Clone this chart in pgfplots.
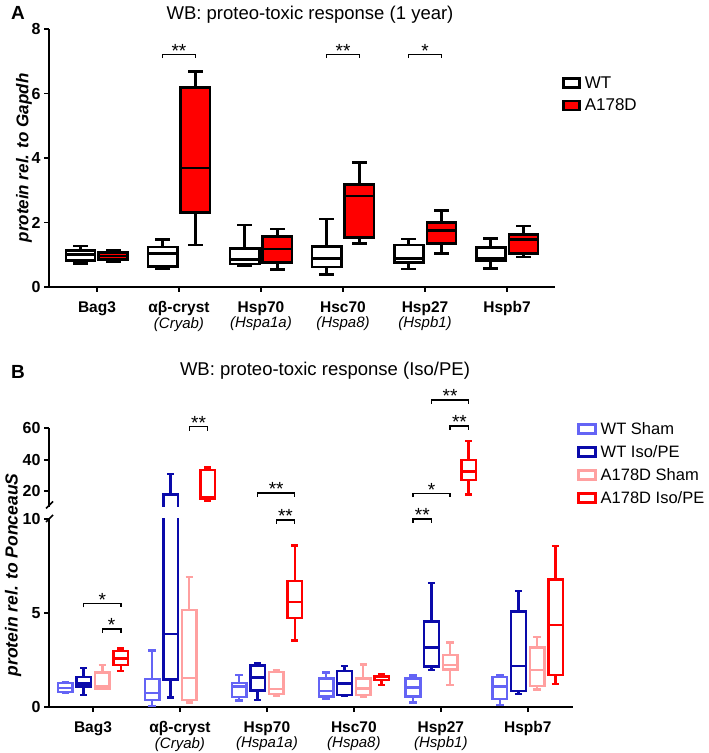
\documentclass[border=0pt]{standalone}
\usepackage{fontspec}
\setmainfont{Liberation Sans}
\usepackage{pgfplots}
\pgfplotsset{compat=1.18}
\usepgfplotslibrary{statistics}

\definecolor{wtsham}{HTML}{6464F5}
\definecolor{wtiso}{HTML}{0A0AAA}
\definecolor{musham}{HTML}{FFA0A0}
\definecolor{muiso}{HTML}{FF0000}

\newcommand\gsub[1]{{\mdseries\itshape\fontsize{15}{15}\selectfont #1}}
\newcommand\medlw{2.8pt}
% one prepared box: style, position, lw, lq, med, uq, uw
\newcommand\bp[7]{\addplot[#1, boxplot prepared={draw position=#2, lower whisker=#3,
  lower quartile=#4, median=#5, upper quartile=#6, upper whisker=#7,
  every median/.style={line width=\medlw}}] coordinates {};}
% significance bracket: x1, x2, y, tick end, text
\newcommand\sig[5]{\draw[line width=1.4pt] (axis cs:#1,#4) |- (axis cs:#2,#3) -- (axis cs:#2,#4);
  \path (axis cs:#1,#3) -- node[anchor=base, yshift=-3pt, font=\fontsize{19}{19}\selectfont] {#5} (axis cs:#2,#3);}

\pgfplotsset{
  panel/.style={scale only axis, axis lines*=left, clip mode=individual,
    axis line style={line width=1.6pt}, tick style={line width=1.6pt, black},
    tick align=outside, major tick length=5pt,
    tick label style={font=\bfseries\fontsize{16}{16}\selectfont},
    /pgf/number format/assume math mode=true,
    xtick={0,...,5},
    xticklabels={Bag3, {αβ-cryst\\\gsub{(Cryab)}}, {Hsp70\\\gsub{(Hspa1a)}},
      {Hsc70\\\gsub{(Hspa8)}}, {Hsp27\\\gsub{(Hspb1)}}, Hspb7},
    xticklabel style={align=center, yshift=-6pt, font=\bfseries\fontsize{15.5}{15.5}\selectfont},
    legend cell align=left},
  bxA/.style={line width=2.8pt, draw=black, boxplot/draw direction=y,
    boxplot/box extend=0.354, boxplot/whisker extend=0.177},
  bxB/.style={line width=2.4pt, boxplot/draw direction=y,
    boxplot/box extend=0.168, boxplot/whisker extend=0.084},
}

% panel B values (positions: category -0.32, -0.107, +0.107, +0.32)
\newcommand\panelB{%
  % Bag3
  \bp{bxB, draw=wtsham}{-0.32}{0.75}{0.80}{1.00}{1.28}{1.33}
  \bp{bxB, draw=wtiso}{-0.107}{0.64}{1.08}{1.26}{1.61}{2.06}
  \bp{bxB, draw=musham}{0.107}{0.95}{0.98}{1.08}{1.83}{2.23}
  \bp{bxB, draw=muiso}{0.32}{1.93}{2.23}{2.59}{2.98}{3.12}
  % ab-cryst
  \bp{bxB, draw=wtsham}{0.68}{0.05}{0.37}{0.73}{1.49}{3.01}
  \bp{bxB, draw=wtiso}{0.893}{0.50}{1.47}{3.87}{18}{31}
  \bp{bxB, draw=musham}{1.107}{0.23}{0.37}{1.53}{5.16}{6.90}
  \bp{bxB, draw=muiso}{1.32}{14}{15}{16}{33.5}{35}
  % Hsp70
  \bp{bxB, draw=wtsham}{1.68}{0.34}{0.52}{1.08}{1.29}{1.70}
  \bp{bxB, draw=wtiso}{1.893}{0.37}{0.87}{1.56}{2.20}{2.32}
  \bp{bxB, draw=musham}{2.107}{0.62}{0.69}{0.96}{1.86}{1.97}
  \bp{bxB, draw=muiso}{2.32}{3.53}{4.72}{5.57}{6.70}{8.58}
  % Hsc70
  \bp{bxB, draw=wtsham}{2.68}{0.43}{0.55}{0.85}{1.52}{1.84}
  \bp{bxB, draw=wtiso}{2.893}{0.58}{0.64}{1.26}{1.91}{2.18}
  \bp{bxB, draw=musham}{3.107}{0.52}{0.64}{0.99}{1.52}{2.27}
  \bp{bxB, draw=muiso}{3.32}{1.17}{1.44}{1.58}{1.65}{1.74}
  % Hsp27
  \bp{bxB, draw=wtsham}{3.68}{0.23}{0.55}{1.03}{1.52}{1.67}
  \bp{bxB, draw=wtiso}{3.893}{1.97}{2.15}{3.16}{4.54}{6.61}
  \bp{bxB, draw=musham}{4.107}{1.17}{2.00}{2.23}{2.77}{3.44}
  \bp{bxB, draw=muiso}{4.32}{18}{27}{32.5}{40}{52}
  % Hspb7
  \bp{bxB, draw=wtsham}{4.68}{0.11}{0.41}{1.08}{1.58}{1.70}
  \bp{bxB, draw=wtiso}{4.893}{0.69}{0.85}{2.18}{5.07}{6.17}
  \bp{bxB, draw=musham}{5.107}{0.94}{1.12}{1.97}{3.17}{3.71}
  \bp{bxB, draw=muiso}{5.32}{1.22}{1.70}{4.36}{6.79}{8.56}
}

\begin{document}
\begin{tikzpicture}
\useasboundingbox (0pt,0pt) rectangle (709pt,753pt);

% ---------- panel A ----------
\node[font=\bfseries\fontsize{19}{19}\selectfont] at (18pt,740pt) {A};
\node[font=\fontsize{18.5}{18.5}\selectfont] at (310pt,738pt) {WB: proteo-toxic response (1 year)};
\node[rotate=90, font=\bfseries\itshape\fontsize{17}{17}\selectfont] at (24pt,595pt) {protein rel. to Gapdh};

\renewcommand\medlw{2.8pt}
\begin{axis}[panel, at={(49pt,466pt)}, anchor=south west, width=506pt, height=258pt,
  xmin=-0.585, xmax=5.585, ymin=0, ymax=8, ytick={0,2,4,6,8},
  legend image code/.code={\draw[#1] (0pt,-4.5pt) rectangle (16pt,4.5pt);},
  legend style={draw=none, fill=none, at={(1.0138,0.82)}, anchor=north west,
    font=\fontsize{17}{19}\selectfont, row sep=7pt, inner sep=0pt,
    nodes={inner xsep=4pt, inner ysep=1pt}}]
\addlegendimage{draw=black, fill=white, line width=2.6pt}
\addlegendimage{draw=black, fill=red, line width=2.6pt}
\legend{WT, A178D}
\bp{bxA, fill=white}{-0.2}{0.72}{0.81}{1.00}{1.12}{1.27}
\bp{bxA, fill=red}{0.2}{0.78}{0.86}{0.96}{1.06}{1.15}
\bp{bxA, fill=white}{0.8}{0.56}{0.63}{1.05}{1.24}{1.48}
\bp{bxA, fill=red}{1.2}{1.30}{2.32}{3.69}{6.19}{6.67}
\bp{bxA, fill=white}{1.8}{0.65}{0.71}{0.85}{1.20}{1.92}
\bp{bxA, fill=red}{2.2}{0.55}{0.75}{1.18}{1.56}{1.80}
\bp{bxA, fill=white}{2.8}{0.39}{0.62}{0.89}{1.25}{2.11}
\bp{bxA, fill=red}{3.2}{1.36}{1.53}{2.82}{3.18}{3.85}
\bp{bxA, fill=white}{3.8}{0.56}{0.77}{0.89}{1.30}{1.49}
\bp{bxA, fill=red}{4.2}{1.04}{1.34}{1.75}{2.00}{2.36}
\bp{bxA, fill=white}{4.8}{0.58}{0.81}{0.89}{1.23}{1.51}
\bp{bxA, fill=red}{5.2}{0.93}{1.04}{1.48}{1.64}{1.89}
\sig{0.8}{1.2}{7.2}{7.1}{**}
\sig{2.8}{3.2}{7.2}{7.1}{**}
\sig{3.8}{4.2}{7.2}{7.1}{*}
\end{axis}

% ---------- panel B ----------
\node[font=\bfseries\fontsize{19}{19}\selectfont] at (18pt,381pt) {B};
\node[font=\fontsize{18.5}{18.5}\selectfont] at (325pt,382pt) {WB: proteo-toxic response (Iso/PE)};
\node[rotate=90, font=\bfseries\itshape\fontsize{17.5}{17.5}\selectfont] at (13pt,178pt) {protein rel. to PonceauS};

\renewcommand\medlw{2.4pt}
\begin{axis}[panel, at={(49pt,46pt)}, anchor=south west, width=524pt, height=188pt,
  xmin=-0.506, xmax=5.52, ymin=0, ymax=10, ytick={0,5,10}]
\panelB
\sig{-0.107}{0.32}{5.5}{5.3}{*}
\sig{0.107}{0.32}{4.15}{3.95}{*}
\sig{2.107}{2.32}{9.95}{9.75}{**}
\sig{3.68}{3.893}{10}{9.8}{**}
\end{axis}

\begin{axis}[panel, at={(49pt,246pt)}, anchor=south west, width=524pt, height=78.7pt,
  xmin=-0.506, xmax=5.52, ymin=10, ymax=60, ytick={20,40,60},
  axis x line=none, axis y line*=left, xtick=\empty,
  legend image code/.code={\draw[#1] (0pt,-4.5pt) rectangle (17pt,4.5pt);},
  legend style={draw=none, fill=none, at={(1.0076,1.093)}, anchor=north west,
    font=\fontsize{16.5}{19}\selectfont, row sep=7.5pt, inner sep=0pt,
    nodes={inner xsep=4pt, inner ysep=1pt}}]
\addlegendimage{draw=wtsham, fill=white, line width=2.5pt}
\addlegendimage{draw=wtiso, fill=white, line width=2.5pt}
\addlegendimage{draw=musham, fill=white, line width=2.5pt}
\addlegendimage{draw=muiso, fill=white, line width=2.5pt}
\legend{WT Sham, WT Iso/PE, A178D Sham, A178D Iso/PE}
\panelB
\sig{1.107}{1.32}{61}{58.5}{**}
\sig{1.893}{2.32}{19}{16.5}{**}
\sig{3.893}{4.32}{78}{75.5}{**}
\sig{4.107}{4.32}{61.5}{59}{**}
\sig{3.68}{4.107}{18.7}{16.2}{*}
\end{axis}

% axis break marks
\draw[line width=1.5pt] (46pt,244.5pt) -- (53pt,251.5pt);
\draw[line width=1.5pt] (46pt,231pt) -- (53pt,238pt);
\end{tikzpicture}
\end{document}
